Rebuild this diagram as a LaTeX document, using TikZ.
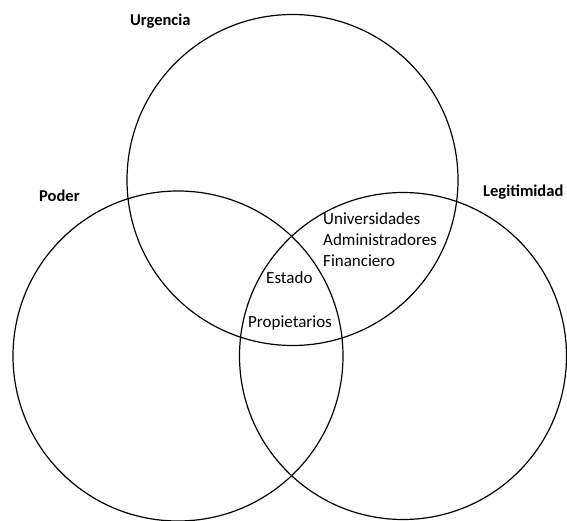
\documentclass[tikz,border=0pt]{standalone}
\usepackage{fontspec}
\setmainfont{Carlito}
\begin{document}
\begin{tikzpicture}[x=1pt,y=-1pt,
  ring/.style={draw=black,line width=1.2pt},
  lbl/.style={anchor=base west,inner sep=0pt,font=\fontsize{16.5}{20}\selectfont\bfseries},
  txt/.style={anchor=base west,inner sep=0pt,font=\fontsize{17}{20}\selectfont}]
\useasboundingbox (0,0) rectangle (567,521);
\node[ring,circle,minimum size=331pt,inner sep=0pt] (urg) at (292.5,180) {};
\node[ring,circle,minimum size=330pt,inner sep=0pt] (pod) at (178,356) {};
\node[ring,circle,minimum size=327pt,inner sep=0pt] (leg) at (403,356) {};
\node[lbl] (lurg) at (130,26) {Urgencia};
\node[lbl] (lpod) at (39,202) {Poder};
\node[lbl] (lleg) at (483,197) {Legitimidad};
\node[txt] (uni) at (323,225) {Universidades};
\node[txt] (adm) at (323,246) {Administradores};
\node[txt] (fin) at (323,266) {Financiero};
\node[txt] (est) at (266,283) {Estado};
\node[txt] (pro) at (248,327) {Propietarios};
\end{tikzpicture}
\end{document}
